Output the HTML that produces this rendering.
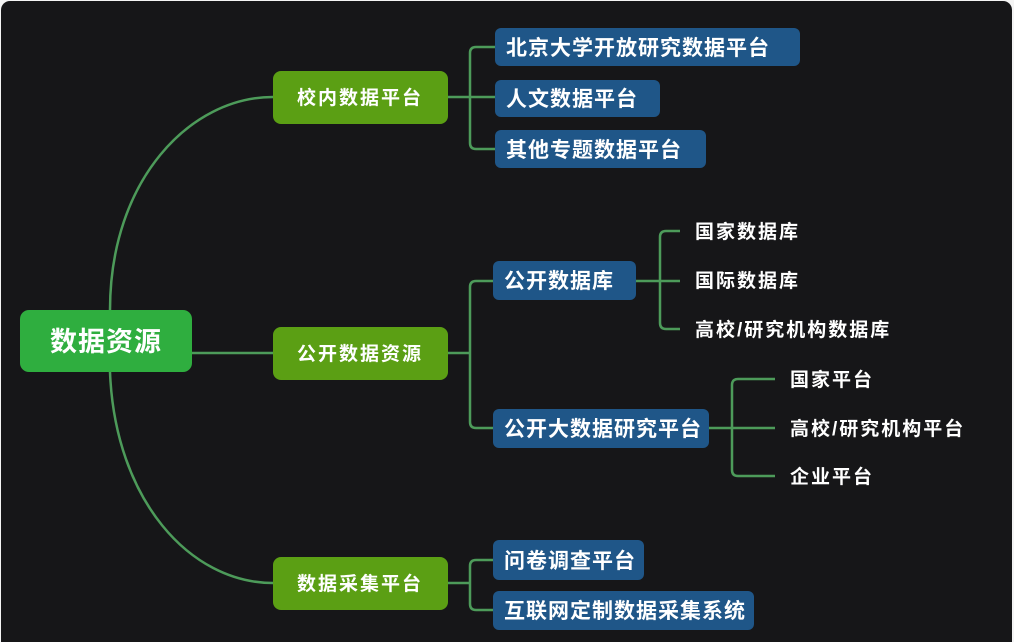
<!DOCTYPE html>
<html><head><meta charset="utf-8"><style>
html,body{margin:0;padding:0;background:#f4f4f4;}
svg{display:block}
text{font-family:"Liberation Sans","Noto Sans CJK SC",sans-serif;font-weight:bold;fill:#fff;}
</style></head><body>
<svg width="1014" height="642" viewBox="0 0 1014 642" xmlns="http://www.w3.org/2000/svg">
<rect x="1" y="1" width="1011" height="650" rx="9" fill="#161618"/>
<g fill="none" stroke="#4d9b5a" stroke-width="2.5">
<path d="M110 310 C110 180 190 97 273 97"/>
<path d="M110 372 C115 500 190 583 273 583"/>
<path d="M192 353 L273 353"/>
<path d="M448 97 L495 97"/>
<path d="M495 47 L476 47 Q470 47 470 53 L470 143 Q470 149 476 149 L495 149"/>
<path d="M448 353 L470 353"/>
<path d="M493 281 L476 281 Q470 281 470 287 L470 422 Q470 428 476 428 L493 428"/>
<path d="M448 583 L470 583"/>
<path d="M493 560 L476 560 Q470 560 470 566 L470 604 Q470 610 476 610 L493 610"/>
<path d="M636 281 L680 281"/>
<path d="M680 231 L666 231 Q660 231 660 237 L660 323 Q660 329 666 329 L680 329"/>
<path d="M709 428 L775 428"/>
<path d="M775 379 L738 379 Q732 379 732 385 L732 470 Q732 476 738 476 L775 476"/>
</g>
<rect x="20" y="310" width="172" height="62" rx="9" fill="#2fae3f"/>
<text x="50" y="351" font-size="27" letter-spacing="1">数据资源</text>
<g fill="#5b9f14">
<rect x="273" y="71" width="175" height="53" rx="8"/>
<rect x="273" y="327" width="175" height="53" rx="8"/>
<rect x="273" y="557" width="175" height="53" rx="8"/>
</g>
<g font-size="19" letter-spacing="2">
<text x="297" y="104">校内数据平台</text>
<text x="297" y="360">公开数据资源</text>
<text x="297" y="590">数据采集平台</text>
</g>
<g fill="#1f5688">
<rect x="495" y="28" width="305" height="38" rx="6"/>
<rect x="495" y="80" width="165" height="37" rx="6"/>
<rect x="495" y="130" width="211" height="38" rx="6"/>
<rect x="493" y="261" width="143" height="39" rx="6"/>
<rect x="493" y="409" width="216" height="39" rx="6"/>
<rect x="493" y="540" width="151" height="40" rx="6"/>
<rect x="493" y="591" width="261" height="39" rx="6"/>
</g>
<g font-size="21" letter-spacing="1">
<text x="506" y="55">北京大学开放研究数据平台</text>
<text x="506" y="106">人文数据平台</text>
<text x="506" y="157">其他专题数据平台</text>
<text x="504" y="288">公开数据库</text>
<text x="504" y="436">公开大数据研究平台</text>
<text x="504" y="568">问卷调查平台</text>
<text x="504" y="618">互联网定制数据采集系统</text>
</g>
<g font-size="19" letter-spacing="2">
<text x="695" y="238">国家数据库</text>
<text x="695" y="287">国际数据库</text>
<text x="695" y="336">高校/研究机构数据库</text>
<text x="790" y="386">国家平台</text>
<text x="790" y="435">高校/研究机构平台</text>
<text x="790" y="483">企业平台</text>
</g>
</svg>
</body></html>
